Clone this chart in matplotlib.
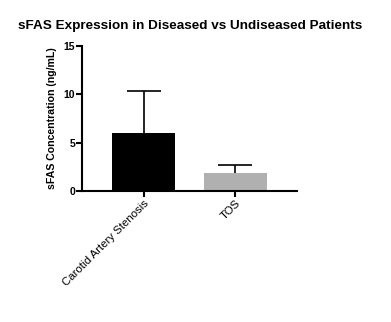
import matplotlib
matplotlib.use("Agg")
import matplotlib.pyplot as plt

# data
groups = ["Carotid Artery Stenosis", "TOS"]
means = [6.0, 1.9]
errs = [4.3, 0.82]
colors = ["#000000", "#b0b0b0"]
yticks = [0, 5, 10, 15]

plt.rcParams["font.family"] = ["Liberation Sans", "DejaVu Sans"]

fig = plt.figure(figsize=(3.91, 3.22), dpi=100)
ax = fig.add_axes([0.2097, 0.4068, 0.55, 0.4502])

x = range(len(groups))
ax.bar(x, means, width=0.68, color=colors, zorder=2)
# symmetric bars drawn behind the columns, so only the upper half shows
ax.errorbar(x, means, yerr=errs, fmt="none",
            ecolor="black", elinewidth=1.2, capsize=12, capthick=1.2, zorder=1)

ax.set_xlim(-0.67, 1.67)
ax.set_ylim(0, 15)
ax.set_yticks(yticks)
ax.set_yticklabels([str(t) for t in yticks], fontsize=7.5, fontweight="bold")
ax.set_xticks(list(x))
ax.set_xticklabels(groups, rotation=45, ha="right", rotation_mode="anchor", fontsize=8.2)

for side in ["top", "right"]:
    ax.spines[side].set_visible(False)
for side in ["left", "bottom"]:
    ax.spines[side].set_linewidth(1.5)
ax.tick_params(axis="both", direction="out", length=4, width=1.5, pad=1)

ax.set_ylabel("sFAS Concentration (ng/mL)", fontsize=7.6, fontweight="bold", labelpad=5)
fig.text(0.485, 0.918, "sFAS Expression in Diseased vs Undiseased Patients",
         ha="center", va="center", fontsize=9.7, fontweight="bold")

fig.savefig("out.png", dpi=100)
